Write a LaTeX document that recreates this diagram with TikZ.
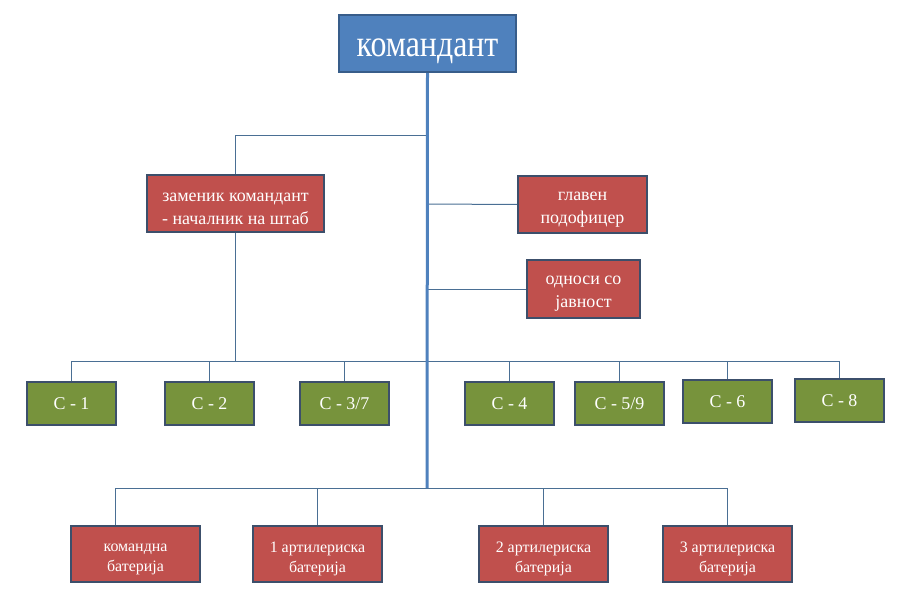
\documentclass[tikz,border=0pt]{standalone}
\usepackage{fontspec}
\setmainfont{Liberation Serif}
\usepackage{graphicx}
\usepackage{tikz}
\usetikzlibrary{positioning,calc}

\definecolor{headfill}{HTML}{4F81BD}
\definecolor{headline}{HTML}{385D8A}
\definecolor{redfill}{HTML}{C0504D}
\definecolor{greenfill}{HTML}{77933C}
\definecolor{boxline}{HTML}{3C4F6B}
\definecolor{wire}{HTML}{4A6F94}

% text set lower in its box, box size kept
\newcommand{\lowtext}[2][5bp]{\raisebox{-#1}[\height][\depth]{#2}}

\tikzset{
  headbox/.style={draw=headline,fill=headfill,line width=2.5bp,text=white,
    minimum width=177bp,minimum height=57bp,inner sep=0pt,
    font=\fontsize{32}{36}\selectfont},
  redbox/.style={draw=boxline,fill=redfill,line width=2.5bp,text=white,
    minimum height=57bp,inner sep=0pt,align=center,
    font=\fontsize{18}{23}\selectfont},
  batbox/.style={draw=boxline,fill=redfill,line width=2.5bp,text=white,
    minimum width=129bp,minimum height=56bp,inner sep=0pt,align=center,
    font=\fontsize{16}{20}\selectfont},
  sbox/.style={draw=boxline,fill=greenfill,line width=2.5bp,text=white,
    minimum width=89bp,minimum height=43bp,inner sep=0pt,
    font=\fontsize{18}{22}\selectfont},
  wire/.style={draw=wire,line width=1bp},
  trunk/.style={draw=headfill,line width=3bp}
}

\begin{document}
\begin{tikzpicture}[x=1bp,y=-1bp]
      \useasboundingbox (0,0) rectangle (907,611);

      % junctions on the trunk
      \coordinate (jdep) at (427,136);
      \coordinate (jnco) at (427,204);
      \coordinate (jpr)  at (427,289);
      \coordinate (jbus) at (427,361);
      \coordinate (jbat) at (427,488);

      \node[headbox] (cmd) at (427.5,43.5) {\lowtext[8bp]{\scalebox{1}[1.18]{командант}}};
      \node[redbox,minimum width=177bp] (dep) at (235.5,203.5)
        {\lowtext{заменик командант}\\\lowtext{- началник на штаб}};
      \node[redbox,minimum width=129bp] (nco) at (582.5,204.5)
        {\lowtext{главен}\\\lowtext{подофицер}};
      \node[redbox,minimum width=113bp,minimum height=58bp] (pr) at (583.5,289)
        {\lowtext{односи со}\\\lowtext{јавност}};

      \node[sbox] (s1) at (71.5,403.5) {С - 1};
      \node[sbox] (s2) at (209.5,403.5) {С - 2};
      \node[sbox] (s37) at (344.5,403.5) {С - 3/7};
      \node[sbox] (s4) at (509.5,403.5) {С - 4};
      \node[sbox] (s59) at (619.5,403.5) {С - 5/9};
      \node[sbox] (s6) at (727.5,401.5) {С - 6};
      \node[sbox] (s8) at (839.5,400.5) {С - 8};

      \node[batbox] (bat0) at (135.5,554) {\lowtext{командна}\\\lowtext{батерија}};
      \node[batbox] (bat1) at (317.5,554) {\lowtext{1 артилериска}\\\lowtext{батерија}};
      \node[batbox] (bat2) at (543.5,554) {\lowtext{2 артилериска}\\\lowtext{батерија}};
      \node[batbox] (bat3) at (727.5,554) {\lowtext{3 артилериска}\\\lowtext{батерија}};

      % staff
      \draw[wire] (jdep) -| (dep.north);
      \draw[wire] (jnco) -- (nco.west);
      \draw[wire] (jpr) -- (pr.west);
      \draw[wire] (dep.south) -- (dep.south |- jbus);

      % S-sections
      \draw[wire] (s1.north) |- (s8.north |- jbus) -- (s8.north);
      \foreach \s in {s2,s37,s4,s59,s6}
        \draw[wire] (\s.north) -- (\s.north |- jbus);

      % batteries
      \draw[wire] ([xshift=-20.5bp]bat0.north) |- (bat3.north |- jbat) -- (bat3.north);
      \foreach \b in {bat1,bat2}
        \draw[wire] (\b.north) -- (\b.north |- jbat);

      \draw[trunk] (cmd.south) -- (jbat);
\end{tikzpicture}
\end{document}
